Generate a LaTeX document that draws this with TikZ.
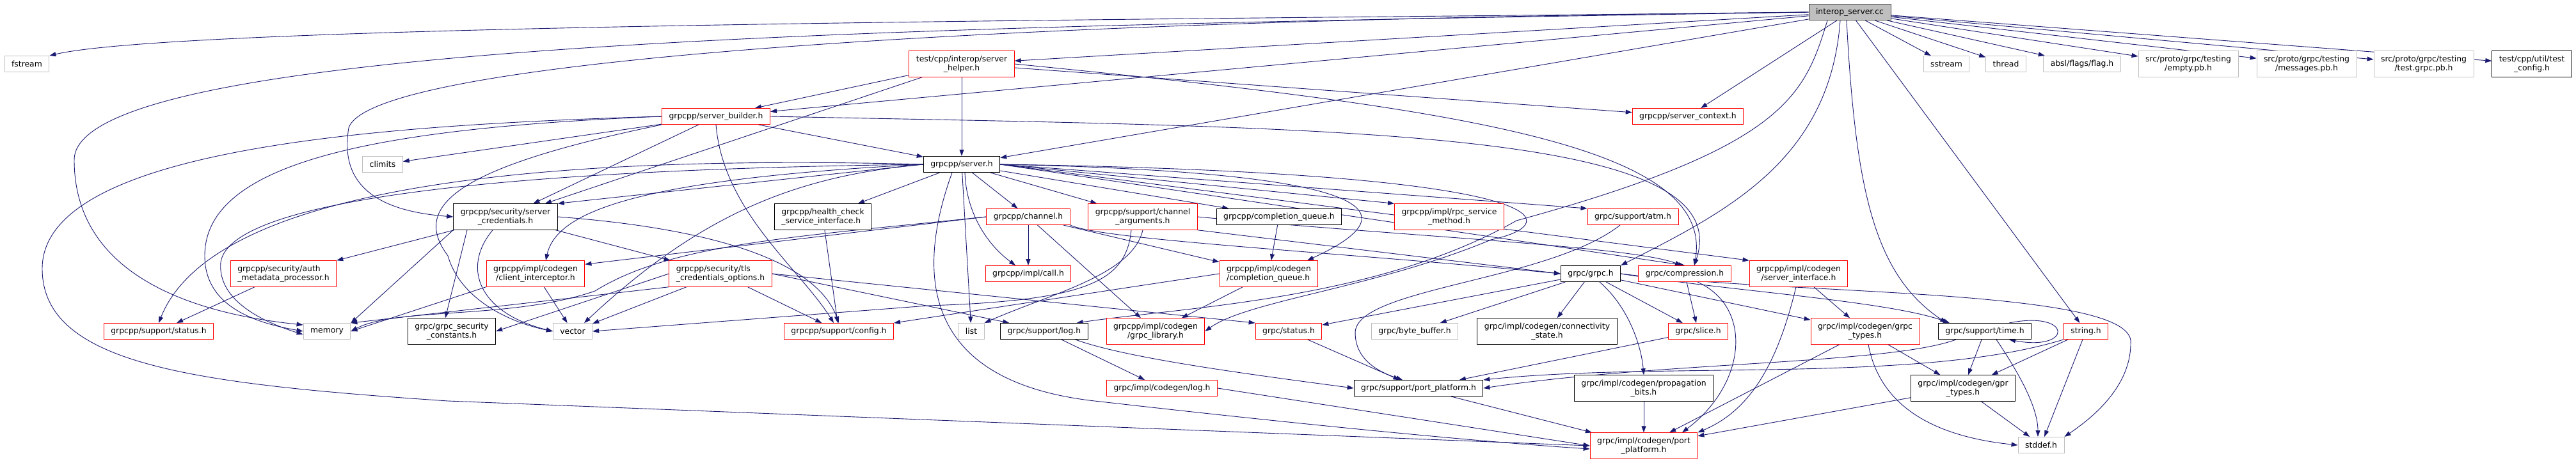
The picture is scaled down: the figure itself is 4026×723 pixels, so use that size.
\documentclass[tikz,border=0pt]{standalone}
\usepackage{fontspec}
\setmainfont{DejaVu Sans}
\usetikzlibrary{arrows.meta,backgrounds}
\definecolor{edgeblue}{HTML}{191970}
\definecolor{extgray}{HTML}{BFBFBF}
\definecolor{rootline}{HTML}{404040}

\begin{document}
\begin{tikzpicture}[x=1pt,y=-1pt,
    box/.style={draw=black,fill=white,line width=1pt,inner xsep=11pt,inner ysep=2pt,
      minimum height=25pt,align=center,font=\fontsize{12.4pt}{14.5pt}\selectfont},
    trunc/.style={box,draw=red},
    ext/.style={box,draw=extgray},
    root/.style={box,draw=rootline,fill=extgray},
    dbl/.style={minimum height=40.5pt},
    la/.style={align=left},
    dep/.style={draw=edgeblue,line width=0.9pt,-{Triangle[length=10pt,width=7pt]}}]
    \useasboundingbox (0,0) rectangle (4026,723);

    % top row
    \node[root] (IS) at (2891,19) {interop\_server.cc};
    \node[ext] (fstream) at (42,100) {fstream};
    \node[trunc,dbl] (helper) at (1503,100) {test/cpp/interop/server\\\_helper.h};
    \node[ext] (sstream) at (3042,100) {sstream};
    \node[ext] (thread) at (3135,100) {thread};
    \node[ext] (absl) at (3254,100) {absl/flags/flag.h};
    \node[ext,dbl] (emptypb) at (3420,100) {src/proto/grpc/testing\\/empty.pb.h};
    \node[ext,dbl] (msgpb) at (3605,100) {src/proto/grpc/testing\\/messages.pb.h};
    \node[ext,dbl] (testpb) at (3788,100) {src/proto/grpc/testing\\/test.grpc.pb.h};
    \node[box,dbl] (testcfg) at (3957,100) {test/cpp/util/test\\\_config.h};
    \node[trunc] (builder) at (1119,182) {grpcpp/server\_builder.h};
    \node[trunc] (context) at (2638,182) {grpcpp/server\_context.h};
    \node[ext] (climits) at (598,257) {climits};
    \node[box] (server) at (1503,257) {grpcpp/server.h};

    % middle rows
    \node[box,dbl] (servcred) at (790,339) {grpcpp/security/server\\\_credentials.h};
    \node[box,dbl,la] (health) at (1286,339) {grpcpp/health\_check\\\_service\_interface.h};
    \node[trunc] (channel) at (1607,339) {grpcpp/channel.h};
    \node[trunc,dbl] (chargs) at (1786,339) {grpcpp/support/channel\\\_arguments.h};
    \node[box] (cq) at (1999,339) {grpcpp/completion\_queue.h};
    \node[trunc,dbl] (rpcsm) at (2265,339) {grpcpp/impl/rpc\_service\\\_method.h};
    \node[trunc] (atm) at (2552,339) {grpc/support/atm.h};
    \node[trunc,dbl,la] (authmeta) at (443,428) {grpcpp/security/auth\\\_metadata\_processor.h};
    \node[trunc,dbl] (clientint) at (837,428) {grpcpp/impl/codegen\\/client\_interceptor.h};
    \node[trunc,dbl,la] (tls) at (1126,428) {grpcpp/security/tls\\\_credentials\_options.h};
    \node[trunc] (callh) at (1607,428) {grpcpp/impl/call.h};
    \node[trunc,dbl,la] (cgcq) at (1983,428) {grpcpp/impl/codegen\\/completion\_queue.h};
    \node[box] (grpch) at (2486,428) {grpc/grpc.h};
    \node[trunc] (compr) at (2633,428) {grpc/compression.h};
    \node[trunc,dbl] (srvint) at (2811,428) {grpcpp/impl/codegen\\/server\_interface.h};

    % lower rows
    \node[trunc] (sstatus) at (248,518) {grpcpp/support/status.h};
    \node[ext] (memory) at (511,518) {memory};
    \node[box,dbl] (secconst) at (706,518) {grpc/grpc\_security\\\_constants.h};
    \node[ext] (vector) at (895,518) {vector};
    \node[trunc] (config) at (1311,518) {grpcpp/support/config.h};
    \node[ext] (list) at (1518,518) {list};
    \node[box] (slog) at (1632,518) {grpc/support/log.h};
    \node[trunc,dbl] (grplib) at (1806,518) {grpcpp/impl/codegen\\/grpc\_library.h};
    \node[trunc] (gstatus) at (2014,518) {grpc/status.h};
    \node[ext] (bytebuf) at (2211,518) {grpc/byte\_buffer.h};
    \node[box,dbl] (connect) at (2418,518) {grpc/impl/codegen/connectivity\\\_state.h};
    \node[trunc] (slice) at (2654,518) {grpc/slice.h};
    \node[trunc,dbl] (grptypes) at (2915,518) {grpc/impl/codegen/grpc\\\_types.h};
    \node[box] (time) at (3102,518) {grpc/support/time.h};
    \node[trunc] (stringh) at (3260,518) {string.h};
    \node[trunc] (cglog) at (1816,607) {grpc/impl/codegen/log.h};
    \node[box] (sport) at (2217,607) {grpc/support/port\_platform.h};
    \node[box,dbl] (propag) at (2569,607) {grpc/impl/codegen/propagation\\\_bits.h};
    \node[box,dbl] (gprtypes) at (3068,607) {grpc/impl/codegen/gpr\\\_types.h};
    \node[trunc,dbl] (cgport) at (2569,697) {grpc/impl/codegen/port\\\_platform.h};
    \node[ext] (stddef) at (3190,696) {stddef.h};

    \begin{pgfonlayer}{background}
    % interop_server.cc
    \foreach \t in {sstream,thread,absl,emptypb,msgpb,testpb,testcfg,helper,context,builder,server,stringh}
      \draw[dep] (IS) -- (\t);
    \draw[dep] (IS.west) .. controls (2000,30) and (300,35) .. (fstream.north east);
    \draw[dep] (IS.west) .. controls (1500,40) and (116,60) .. (116,250) .. controls (116,430) and (300,490) .. ([yshift=-3pt]memory.north west);
    \draw[dep] (IS.west) .. controls (1600,30) and (580,90) .. (545,200) .. controls (530,290) and (590,330) .. (servcred.west);
    \draw[dep] ([xshift=-15pt]IS.south) .. controls (2860,250) and (2700,330) .. (grpch.north east);
    \draw[dep] ([xshift=-5pt]IS.south) .. controls (2900,300) and (2930,430) .. ([xshift=-60pt]time.north);
    \draw[dep] ([xshift=-35pt]IS.south) .. controls (2820,150) and (2790,230) .. (2370,345) .. controls (2150,470) and (1850,480) .. ([xshift=-18pt]slog.north east);

    % server_helper.h
    \foreach \t in {builder,server,servcred,context}
      \draw[dep] (helper) -- (\t);
    \draw[dep] (helper.east) .. controls (2300,170) and (2680,230) .. ([xshift=15pt]compr.north);

    % server_builder.h
    \foreach \t in {climits,server,servcred}
      \draw[dep] (builder) -- (\t);
    \draw[dep] (builder.west) .. controls (600,200) and (320,250) .. (320,400) .. controls (320,480) and (400,505) .. (memory.west);
    \draw[dep] (builder.south west) .. controls (720,260) and (640,320) .. (700,400) .. controls (720,470) and (800,505) .. (vector.west);
    \draw[dep] (builder.south) .. controls (1130,330) and (1250,420) .. ([xshift=-8pt]config.north);
    \draw[dep] (builder.east) .. controls (2100,200) and (2720,200) .. ([xshift=15pt]compr.north);
    \draw[dep] (builder.west) .. controls (600,195) and (66,230) .. (66,420) .. controls (66,570) and (300,600) .. (700,627) -- (cgport.west);

    % grpcpp/server.h
    \foreach \t in {health,channel,chargs,cq,list}
      \draw[dep] (server) -- (\t);
    \draw[dep] (server.east) -- (rpcsm.north west);
    \draw[dep] (server.east) -- (atm.north west);
    \draw[dep] (server.east) -- (compr.north);
    \draw[dep] (server.east) -- (srvint.north west);
    \draw[dep] (server.west) -- (servcred.north east);
    \draw[dep] ([xshift=5pt]server.south) .. controls (1510,330) and (1540,380) .. ([xshift=-20pt]callh.north);
    \draw[dep] (server.west) .. controls (1000,280) and (870,330) .. ([xshift=16pt]clientint.north);
    \draw[dep] (server.west) .. controls (1250,275) and (1100,330) .. ([xshift=18pt]vector.north);
    \draw[dep] (server.west) .. controls (800,240) and (330,300) .. (sstatus.north);
    \draw[dep] (server.west) .. controls (800,265) and (360,310) .. (345,410) .. controls (340,465) and (400,500) .. ([yshift=-5pt]memory.west);
    \draw[dep] (server.east) .. controls (2200,270) and (2190,340) .. ([xshift=60pt]cgcq.north);
    \draw[dep] (server.east) .. controls (2450,270) and (2450,350) .. (2330,375) .. controls (2150,450) and (1950,470) .. (grplib.east);
    \draw[dep] ([xshift=-15pt]server.south) .. controls (1430,430) and (1440,600) .. (1720,628) .. controls (2000,660) and (2300,690) .. ([yshift=-5pt]cgport.west);

    % security headers
    \draw[dep] (servcred) -- (authmeta.north east);
    \draw[dep] (servcred.south west) -- (memory.north east);
    \draw[dep] ([xshift=-60pt]servcred.south) -- ([xshift=-10pt]secconst.north);
    \draw[dep] (servcred) -- (tls);
    \draw[dep] ([xshift=-20pt]servcred.south) .. controls (720,420) and (750,490) .. (vector.west);
    \draw[dep] (servcred.east) .. controls (1150,360) and (1280,420) .. (config.north);
    \draw[dep] (authmeta) -- (sstatus);
    \draw[dep] (tls.south west) -- (memory.north east);
    \draw[dep] (tls) -- (vector);
    \draw[dep] (tls.west) -- (secconst.east);
    \draw[dep] (tls) -- (config);
    \draw[dep] (tls.east) -- (gstatus.north west);
    \draw[dep] (tls.east) -- ([xshift=14pt]slog.north west);
    \draw[dep] (health) -- (config);
    \draw[dep] (clientint) -- (vector);
    \draw[dep] (clientint.south west) -- (memory.east);

    % channel, channel_arguments, queues
    \foreach \t in {callh,grplib,cgcq}
      \draw[dep] (channel) -- (\t);
    \draw[dep] (channel.west) -- ([yshift=-6pt]clientint.north east);
    \draw[dep] (channel.west) .. controls (1250,370) and (1050,380) .. (930,455) .. controls (800,500) and (620,480) .. (memory.east);
    \draw[dep] (channel.south east) .. controls (1720,375) and (2100,395) .. (grpch.west);
    \draw[dep] (chargs.south east) -- (grpch.west);
    \draw[dep] (chargs.east) .. controls (2200,370) and (2550,385) .. ([xshift=-5pt]compr.north);
    \draw[dep] (chargs.south) .. controls (1770,430) and (1640,460) .. (list.north east);
    \draw[dep] ([xshift=-18pt]chargs.south) .. controls (1760,440) and (1700,470) .. (1450,478) -- (vector.east);
    \draw[dep] (cq) -- (cgcq);
    \draw[dep] (cgcq) -- (grplib);
    \draw[dep] (cgcq.west) -- (config.north east);
    \draw[dep] ([xshift=-20pt]atm.south) .. controls (2420,440) and (2120,450) .. (2118,520) .. controls (2118,560) and (2150,580) .. ([xshift=-25pt]sport.north);

    % grpc/grpc.h
    \foreach \t in {gstatus,bytebuf,connect,slice,grptypes}
      \draw[dep] (grpch) -- (\t);
    \draw[dep] ([xshift=14pt]grpch.south) .. controls (2545,480) and (2565,540) .. (propag.north);
    \draw[dep] (grpch.east) .. controls (2700,455) and (2950,470) .. ([xshift=-55pt]time.north);
    \draw[dep] (grpch.east) .. controls (2800,462) and (3340,450) .. (3330,537) .. controls (3330,610) and (3260,660) .. (stddef.north east);

    % bottom layers
    \draw[dep] (compr) -- (slice);
    \draw[dep] ([xshift=20pt]compr.south) .. controls (2740,480) and (2730,600) .. ([xshift=60pt]cgport.north);
    \draw[dep] (srvint) -- (grptypes);
    \draw[dep] ([xshift=-4pt]srvint.south) .. controls (2780,560) and (2740,640) .. (cgport.north east);
    \draw[dep] (gstatus) -- (sport);
    \draw[dep] (slog) -- (cglog);
    \draw[dep] ([xshift=-20pt]slog.south east) .. controls (1760,560) and (1950,585) .. (sport.west);
    \draw[dep] (cglog.east) -- (cgport.west);
    \draw[dep] (slice) -- (sport);
    \draw[dep] (grptypes) -- (gprtypes);
    \draw[dep] (grptypes) -- (cgport);
    \draw[dep] ([xshift=5pt]grptypes.south) .. controls (2935,620) and (3000,680) .. (stddef.west);
    \draw[dep] ([xshift=-45pt]time.south) .. controls (2950,570) and (2600,565) .. (sport.east);
    \draw[dep] (time) -- (gprtypes);
    \draw[dep] ([xshift=18pt]time.south) .. controls (3160,590) and (3185,640) .. ([xshift=-5pt]stddef.north);
    \draw[dep] ([xshift=38pt]time.north) .. controls (3240,485) and (3240,550) .. ([xshift=38pt]time.south);
    \draw[dep] (stringh.south west) .. controls (3000,600) and (2600,565) .. (sport.north east);
    \draw[dep] (stringh) -- (gprtypes);
    \draw[dep] (stringh) -- (stddef);
    \draw[dep] (gprtypes) -- (cgport);
    \draw[dep] (gprtypes) -- (stddef);
    \draw[dep] (propag) -- (cgport);
    \draw[dep] (sport) -- (cgport);
    \end{pgfonlayer}
\end{tikzpicture}
\end{document}
